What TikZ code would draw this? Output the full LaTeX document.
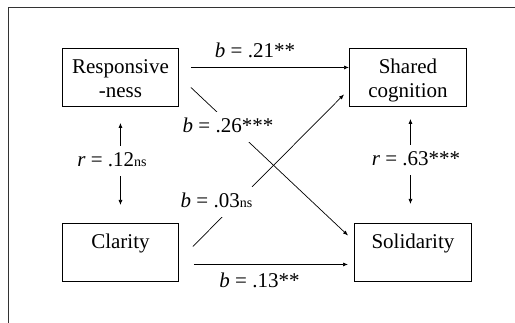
\documentclass[tikz,border=0pt]{standalone}
\usepackage{fontspec}
\setmainfont{Liberation Serif}
\usetikzlibrary{arrows.meta}

\newcommand{\nsig}{{\fontsize{14}{16}\selectfont ns}}

\begin{document}
\begin{tikzpicture}[x=1pt, y=-1pt,
    varbox/.style={draw, line width=0.9pt, minimum width=116pt, minimum height=58pt, align=center, anchor=north west,
        inner ysep=4pt, text height=45pt, text depth=5pt, font=\fontsize{21}{24}\selectfont},
    onebox/.style={varbox, text height=21pt, text depth=29pt},
    coef/.style={anchor=base, font=\fontsize{21}{24}\selectfont},
    coefmask/.style={coef, fill=white, inner xsep=2pt, inner ysep=6pt, text height=15pt, text depth=3pt},
    link/.style={line width=0.7pt, -{Latex[length=5pt,width=4pt]}},
    both/.style={line width=0.7pt, {Latex[length=5pt,width=4pt]}-{Latex[length=5pt,width=4pt]}}]
    \useasboundingbox (0,0) rectangle (515,323);
    \draw[line width=1pt, black!80] (8,323) -- (8,8) -- (515,8);

    % variables
    \node[varbox] (resp) at (62,48) {Responsive\\-ness};
    \node[varbox, minimum width=117pt] (shared) at (349,48) {Shared\\cognition};
    \node[onebox] (clar) at (62,223) {Clarity};
    \node[onebox, minimum width=117pt] (solid) at (354,223) {Solidarity};

    % paths
    \draw[link] ([xshift=12pt,yshift=10pt]resp.east) -- ([yshift=10pt]shared.west);
    \draw[link] ([xshift=12pt,yshift=-10pt]resp.east) -- ([xshift=-6pt,yshift=17pt]solid.west);
    \draw[link] ([xshift=14pt,yshift=6pt]clar.east) -- ([xshift=-5pt,yshift=-17pt]shared.west);
    \draw[link] ([xshift=15pt,yshift=-12pt]clar.east) -- ([xshift=-6pt,yshift=-12pt]solid.west);
    \draw[both] ([yshift=-16pt]resp.south) -- ([yshift=18pt]clar.north);
    \draw[both] ([xshift=2.5pt,yshift=-12pt]shared.south) -- ([xshift=-2.5pt,yshift=19pt]solid.north);

    % coefficients
    \node[coef] (b21) at (255,57.5) {\textit{b} = .21**};
    \node[coefmask] (b26) at (228,133) {\textit{b} = .26***};
    \node[coefmask] (r12) at (112,167) {\textit{r} = .12\nsig};
    \node[coefmask] (r63) at (416,166) {\textit{r} = .63***};
    \node[coefmask] (b03) at (216.5,208) {\textit{b} = .03\nsig};
    \node[coef] (b13) at (259.5,288) {\textit{b} = .13**};
\end{tikzpicture}
\end{document}
